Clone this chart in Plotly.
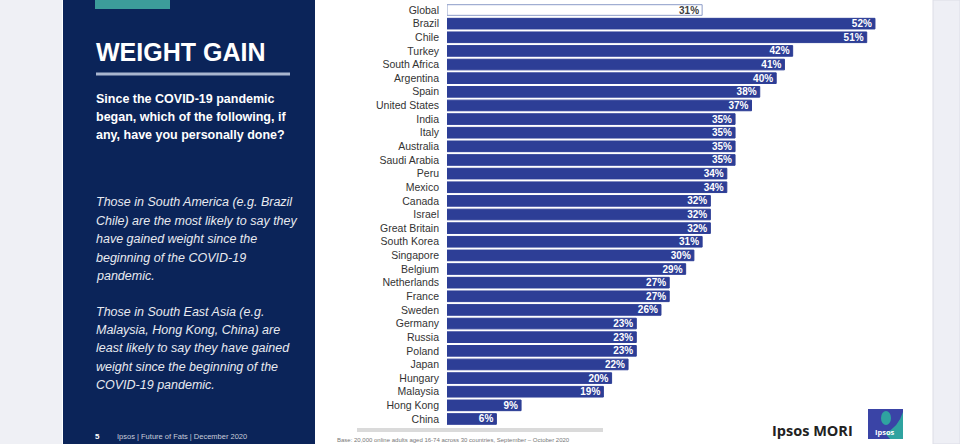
import plotly.graph_objects as go

countries = ["Global", "Brazil", "Chile", "Turkey", "South Africa", "Argentina", "Spain",
             "United States", "India", "Italy", "Australia", "Saudi Arabia", "Peru", "Mexico",
             "Canada", "Israel", "Great Britain", "South Korea", "Singapore", "Belgium",
             "Netherlands", "France", "Sweden", "Germany", "Russia", "Poland", "Japan",
             "Hungary", "Malaysia", "Hong Kong", "China"]
values = [31, 52, 51, 42, 41, 40, 38, 37, 35, 35, 35, 35, 34, 34, 32, 32, 32, 31, 30, 29,
          27, 27, 26, 23, 23, 23, 22, 20, 19, 9, 6]

title = "WEIGHT GAIN"
question = ["Since the COVID-19 pandemic", "began, which of the following, if",
            "any, have you personally done?"]
insight1 = ["Those in South America (e.g. Brazil", "Chile) are the most likely to say they",
            "have gained weight since the", "beginning of the COVID-19", "pandemic."]
insight2 = ["Those in South East Asia (e.g.", "Malaysia, Hong Kong, China) are",
            "least likely to say they have gained", "weight since the beginning of the",
            "COVID-19 pandemic."]
footer = "Ipsos | Future of Fats | December 2020"
source = "Base: 20,000 online adults aged 16-74 across 30 countries, September \u2013 October 2020"

W, H = 960, 444
def px(x):
    return x / W
def py(y):
    return 1 - y / H

BLUE = "#2D3E96"
NAVY = "#0B2459"

colors = ["white" if c == "Global" else BLUE for c in countries]
lines = ["#8C9CC8" if c == "Global" else BLUE for c in countries]
tcolors = ["#404040" if c == "Global" else "white" for c in countries]

fig = go.Figure(go.Bar(
    y=countries, x=values, orientation="h",
    marker=dict(color=colors, line=dict(color=lines, width=1)),
    text=[f"{v}%" for v in values], textposition="inside", insidetextanchor="end",
    constraintext="none",
    textfont=dict(color=tcolors, size=10, family="Liberation Sans, Arial", weight="bold"),
    hoverinfo="skip",
))

n = len(countries)
fig.update_layout(
    width=W, height=H, margin=dict(l=0, r=0, t=0, b=0),
    paper_bgcolor="white", plot_bgcolor="rgba(0,0,0,0)", showlegend=False,
    bargap=0.22,
    xaxis=dict(range=[0, 60], domain=[px(447), px(447 + 8.23 * 60)], visible=False,
               fixedrange=True),
    yaxis=dict(type="category", categoryorder="array", categoryarray=countries,
               range=[n - 0.5, -0.5], domain=[py(425.8), py(3.2)],
               showgrid=False, zeroline=False, showline=False, ticks="",
               ticklabelstandoff=7, fixedrange=True,
               tickfont=dict(size=10.5, color="#333333", family="Liberation Sans, Arial")),
)

P = dict(xref="paper", yref="paper")
shapes = [
    dict(type="rect", x0=0, x1=px(62), y0=0, y1=1, fillcolor="#EFF0F5", line_width=0, layer="below", **P),
    dict(type="rect", x0=px(63), x1=px(315), y0=0, y1=1, fillcolor=NAVY, line_width=0, layer="below", **P),
    dict(type="rect", x0=px(933), x1=1, y0=0, y1=1, fillcolor="#EEEFF5",
         line=dict(color="#DCDDE6", width=1), layer="below", **P),
    dict(type="rect", x0=px(95), x1=px(170), y0=py(9), y1=1, fillcolor="#3C9C9A", line_width=0, **P),
    dict(type="line", x0=px(96), x1=px(290), y0=py(74), y1=py(74), line=dict(color="#A9B6CF", width=3), **P),
    dict(type="rect", x0=px(357), x1=px(603), y0=py(432), y1=py(428), fillcolor="#DADADA", line_width=0, **P),
    dict(type="rect", x0=px(868), x1=px(903), y0=py(439), y1=py(409), fillcolor="#3A44A6", line_width=0, **P),
    dict(type="path", path=f"M {px(890)} {py(439)} L {px(903)} {py(439)} L {px(903)} {py(412)} "
         f"Q {px(898)} {py(428)} {px(885)} {py(433)} Z",
         fillcolor="#2FA3A0", line_width=0, **P),
    dict(type="circle", x0=px(881), x1=px(891), y0=py(425), y1=py(411), fillcolor="#2FA3A0", line_width=0, **P),
]
fig.update_layout(shapes=shapes)

ann = []
def text(x, y, s, size, color, bold=False, italic=False, family="Liberation Sans, Arial", xanchor="left"):
    ann.append(dict(x=px(x), y=py(y), xref="paper", yref="paper", text=s, showarrow=False,
                    xanchor=xanchor, yanchor="middle",
                    font=dict(size=size, color=color, family=family,
                              weight="bold" if bold else "normal",
                              style="italic" if italic else "normal")))

text(94, 52, title, 25, "white", bold=True)
for i, s in enumerate(question):
    text(94, 99 + 18 * i, s, 12.5, "white", bold=True)
for i, s in enumerate(insight1):
    text(94, 202 + 18.5 * i, s, 12.5, "#E8EAF0", italic=True)
for i, s in enumerate(insight2):
    text(94, 312 + 18.2 * i, s, 12.5, "#E8EAF0", italic=True)
text(93, 436, "5", 8, "white", bold=True)
text(115, 436, footer, 7.5, "#C8CDDA")
text(335, 440, source, 6, "#777777")
text(855, 430, "Ipsos MORI", 14.5, "#222222", bold=True, family="Open Sans, Liberation Sans", xanchor="right")
text(885, 432, "Ipsos", 7.5, "white", bold=True, family="Open Sans, Liberation Sans", xanchor="center")
fig.update_layout(annotations=ann)

fig.write_html("out.html", config={"displayModeBar": False},
               post_script="document.body.style.margin='0';document.body.style.overflow='hidden';")
